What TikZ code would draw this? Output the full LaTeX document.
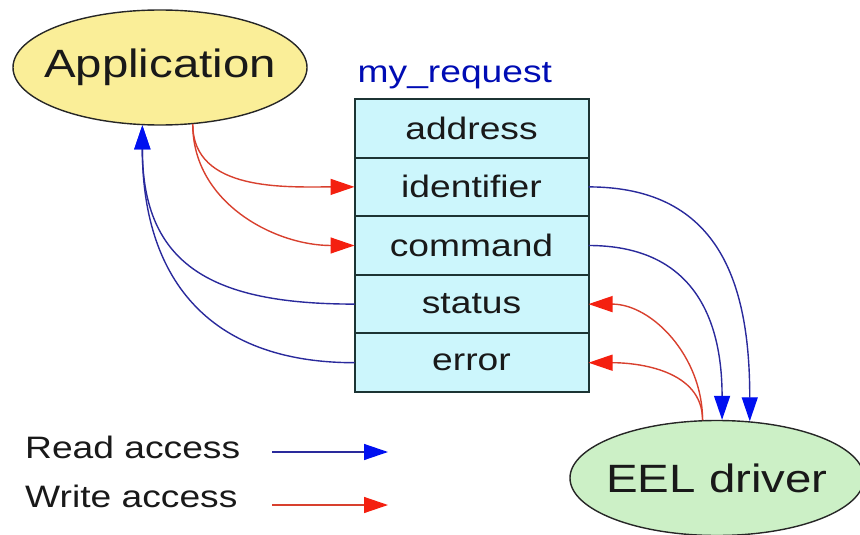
\documentclass[tikz,border=0pt]{standalone}
\usepackage{fontspec}
\setmainfont{Liberation Sans}
\newfontfamily\widesans[FakeStretch=1.2]{Liberation Sans}
\usepackage{xcolor}
\usetikzlibrary{positioning,arrows.meta,shapes.geometric}

\definecolor{appyellow}{HTML}{FAEE98}
\definecolor{eelgreen}{HTML}{CCF0C6}
\definecolor{fieldcyan}{HTML}{CCF6FC}
\definecolor{readline}{HTML}{2A2A9C}
\definecolor{readhead}{HTML}{0010F0}
\definecolor{writeline}{HTML}{D8402E}
\definecolor{writehead}{HTML}{F42010}
\definecolor{tableline}{HTML}{1C3434}

\begin{document}
\begin{tikzpicture}[
    x=1pt, y=-1pt,
    every node/.style={font=\widesans\fontsize{31}{36}\selectfont, text=black!90},
    proc/.style={draw=black!85, line width=1.4pt, ellipse, inner ysep=0pt,
                 minimum width=294pt, minimum height=115pt,
                 font=\widesans\fontsize{39.5}{44}\selectfont},
    field/.style={draw=tableline, line width=2pt, fill=fieldcyan, rectangle,
                  minimum width=234pt, minimum height=58.6pt, inner sep=0pt, outer sep=0pt},
    readarrow/.style={draw=readline, line width=1.4pt,
                      -{Triangle[length=24pt, width=16pt, color=readhead]}},
    writearrow/.style={draw=writeline, line width=1.4pt,
                       -{Triangle[length=24pt, width=16pt, color=writehead]}}
]
\useasboundingbox (0,0) rectangle (860,535);

% Prozesse
\node[proc, fill=appyellow, inner xsep=-12pt] (app) at (160,67.5) {Application};
\node[proc, fill=eelgreen, inner xsep=-7pt] (eel) at (717,478) {EEL driver};

% Struktur my_request
\node[field] (address) at (471.5,128.3) {address};
\node[field, below=0pt of address] (ident) {identifier};
\node[field, below=0pt of ident] (cmd) {command};
\node[field, below=0pt of cmd] (status) {status};
\node[field, below=0pt of status] (error) {error};
\node[anchor=base west, text=readhead!75!black, inner sep=0pt] (reqname)
    at ([xshift=3pt, yshift=16pt]address.north west) {my\_request};

% Schreibzugriffe der Applikation
\draw[writearrow] (app.-60) to[out=-90, in=180] (ident.west);
\draw[writearrow] (app.-60) to[out=-90, in=180] (cmd.west);

% Lesezugriffe der Applikation
\draw[readarrow] (status.west) to[out=180, in=-90, looseness=1.3] (app.-107);
\draw[readarrow] (error.west) to[out=180, in=-90, looseness=1.2] (app.-107);

% Lesezugriffe des Treibers
\draw[readarrow] (ident.east) to[out=0, in=90, looseness=1.2] (eel.60);
\draw[readarrow] (cmd.east) to[out=0, in=90, looseness=1.2] (eel.85);

% Schreibzugriffe des Treibers
\draw[writearrow] (eel.104) to[out=90, in=0] (status.east);
\draw[writearrow] (eel.104) to[out=90, in=0] (error.east);

% Legende
\node[anchor=base west, inner sep=0pt] (readtxt) at (25,458) {Read access};
\node[anchor=base west, inner sep=0pt] (writetxt) at (25,507) {Write access};
\coordinate (readA) at (272,452);
\coordinate (readB) at (388,452);
\coordinate (writeA) at (272,505);
\coordinate (writeB) at (388,505);
\draw[readarrow] (readA) -- (readB);
\draw[writearrow] (writeA) -- (writeB);

\end{tikzpicture}
\end{document}
